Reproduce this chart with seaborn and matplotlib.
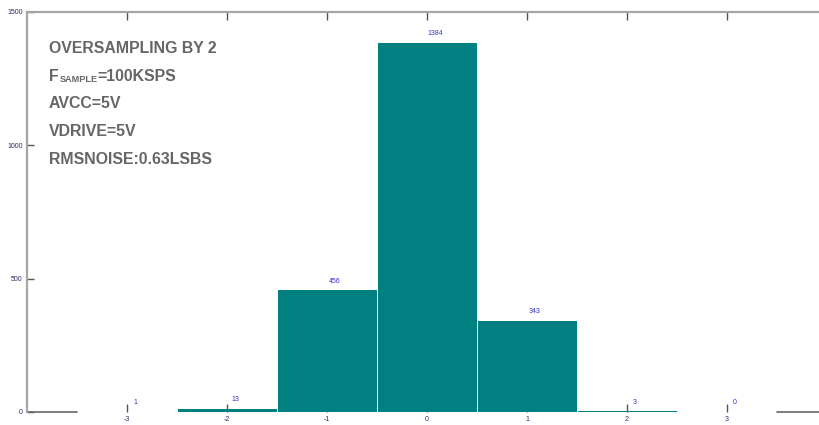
import matplotlib
matplotlib.use("Agg")
import matplotlib.pyplot as plt
import seaborn as sns
import pandas as pd

# Histogram of output codes
codes = [-3, -2, -1, 0, 1, 2, 3]
counts = [1, 13, 456, 1384, 343, 3, 0]
y_ticks = [0, 500, 1000, 1500]

info_lines = ["OVERSAMPLING BY 2", None, "AVCC=5V", "VDRIVE=5V", "RMSNOISE:0.63LSBS"]

sns.set_theme(style="white")
plt.rcParams["font.family"] = ["Liberation Sans", "DejaVu Sans"]

W, H = 819, 425
fig = plt.figure(figsize=(W / 100, H / 100), dpi=100)
# axes spans x = -4..4 (800 px) and y = 0..1500 (400 px); the right edge runs past the canvas
ax = fig.add_axes([27 / W, (H - 412) / H, 800 / W, 400 / H])

df = pd.DataFrame({"code": codes, "count": counts})
sns.barplot(data=df, x="code", y="count", native_scale=True, width=0.99,
            color="#008080", saturation=1, edgecolor="none", linewidth=0,
            ax=ax, zorder=3)

ax.set_xlim(-4, 4)
ax.set_ylim(0, 1500)
ax.set_xlabel("")
ax.set_ylabel("")

ax.set_xticks(codes)
ax.set_xticklabels([str(c) for c in codes])
ax.set_yticks(y_ticks)
ax.set_yticklabels([str(v) for v in y_ticks])

ax.tick_params(axis="x", direction="in", length=6, width=1, color="#555555",
               top=True, bottom=True, labelsize=5, labelcolor="#2b2b66", pad=3)
ax.tick_params(axis="y", direction="in", length=5, width=1, color="#555555",
               left=True, right=False, labelsize=5, labelcolor="#2b2b66", pad=3)

for side in ["left", "top"]:
    ax.spines[side].set_color("#a6a6a6")
    ax.spines[side].set_linewidth(1.6)
ax.spines["right"].set_visible(False)
ax.spines["bottom"].set_visible(False)
# baseline only outside the histogram span
ax.axhline(0, xmin=0, xmax=0.0625, color="#666666", linewidth=1.2, zorder=2, clip_on=False)
ax.axhline(0, xmin=0.9375, xmax=1.0, color="#666666", linewidth=1.2, zorder=2, clip_on=False)

# value labels above each bar
for c, v in zip(codes, counts):
    ax.annotate(str(v), (c + 0.08, v), xytext=(0, 4), textcoords="offset points",
                ha="center", va="bottom", fontsize=5, color="#3333cc", zorder=5)

# parameter block
txt_kw = dict(transform=fig.transFigure, fontsize=11.4, fontweight="bold",
              color="#666666", ha="left", va="baseline")
x0 = 49 / W
baselines = [53, 81, 108, 136, 164]
for line, yb in zip(info_lines, baselines):
    yf = (H - yb) / H
    if line is None:
        t = fig.text(x0, yf, "F", **txt_kw)
        fig.canvas.draw()
        bb = t.get_window_extent()
        t2 = fig.text((bb.x1 + 1.0) / W, yf - 1 / H, "SAMPLE", transform=fig.transFigure,
                      fontsize=6.6, fontweight="bold", color="#666666",
                      ha="left", va="baseline")
        fig.canvas.draw()
        bb2 = t2.get_window_extent()
        fig.text(bb2.x1 / W, yf, "=100KSPS", **txt_kw)
    else:
        fig.text(x0, yf, line, **txt_kw)

fig.savefig("out.png", dpi=100)
